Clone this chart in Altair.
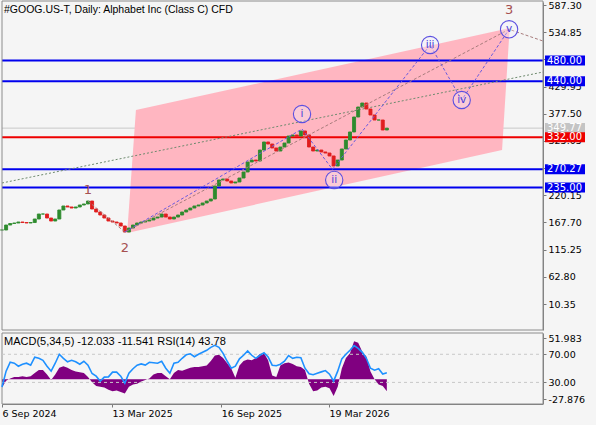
import altair as alt
import pandas as pd

# ---------------- data ----------------
START = "2024-09-06"          # weekly samples from this date
close = [153.2, 162.8, 165.7, 166.7, 168.6, 167.6, 166.7, 167.6, 174.4, 184.0,
         184.0, 176.3, 170.5, 174.4, 191.8, 199.5, 197.6, 195.6, 197.6, 201.4,
         203.4, 209.1, 193.7, 187.9, 182.1, 176.3, 170.5, 168.6, 166.7, 160.9,
         149.3, 157.0, 162.8, 166.7, 168.6, 170.5, 172.5, 176.3, 178.2, 184.0,
         178.2, 174.4, 178.2, 182.1, 187.9, 191.8, 195.6, 199.5, 201.4, 205.3,
         209.1, 213.0, 238.1, 249.7, 251.6, 247.7, 243.9, 245.8, 253.5, 265.1,
         284.4, 288.2, 286.3, 307.5, 323.0, 319.1, 311.4, 305.6, 313.3, 321.0,
         334.5, 336.5, 334.5, 344.2, 336.5, 313.3, 305.6, 307.5, 303.7, 301.7,
         296.0, 276.7, 288.2, 309.5, 326.8, 342.3, 371.2, 390.5, 398.2, 386.6,
         375.1, 365.4, 365.4, 346.1, 349.77]
rsi14 = [23.4, 46.0, 58.7, 57.3, 53.0, 55.9, 57.3, 54.5, 65.8, 64.3,
         61.5, 53.0, 46.0, 57.3, 70.0, 64.3, 59.4, 61.5, 59.4, 55.9,
         60.1, 54.5, 42.7, 38.9, 31.8, 37.5, 37.9, 44.6, 44.6, 38.9,
         29.0, 43.1, 49.5, 54.5, 56.3, 54.7, 58.7, 58.0, 57.3, 60.1,
         50.2, 43.1, 57.3, 58.7, 64.3, 69.3, 70.7, 66.5, 70.0, 72.8,
         75.7, 79.9, 82.7, 79.9, 71.4, 60.1, 50.2, 53.0, 63.6, 68.6,
         74.9, 68.6, 64.3, 68.6, 72.1, 66.2, 54.5, 53.7, 55.9, 60.1,
         68.2, 64.3, 65.8, 65.1, 50.2, 42.2, 41.0, 43.1, 45.0, 46.8,
         41.7, 31.8, 46.0, 63.5, 70.0, 75.7, 82.3, 78.5, 72.8, 64.3,
         50.2, 47.4, 49.5, 42.0, 43.78]
macd_hist = [-11, -2, 1, 3, 3, 4, 3, 4, 8, 12,
             12, 6, -1, 6, 15, 17, 15, 12, 10, 9,
             8, 3, -4, -9, -10, -11, -14, -16, -15, -17,
             -19, -10, -7, -6, -3, -1, 1, 6, 8, 8,
             4, 0, 8, 12, 11, 13, 15, 16, 16, 17,
             18, 24, 31, 32, 28, 21, 14, 2, 18, 24,
             26, 25, 28, 33, 34, 25, 5, 3, 18, 21,
             22, 20, 17, 16, 12, -6, -16, -15, -11, -10,
             -12, -22, -10, 14, 28, 34, 50, 48, 36, 30,
             10, 0, -7, -9, -16]

level_values = [480.00, 440.00, 349.77, 332.00, 270.27, 235.00]
level_labels = ["480.00", "440.00", "349.77", "332.00", "270.27", "235.00"]
level_colors = ["#0000EE", "#0000EE", "#C4C4C4", "#EE0000", "#0000EE", "#0000EE"]

price_ticks = [587.30, 534.85, 482.40, 429.95, 377.50, 325.05, 272.60,
               220.15, 167.70, 115.25, 62.80, 10.35]
date_ticks = ["2024-09-06", "2025-03-13", "2025-09-16", "2026-03-19"]
x_domain = ["2024-09-06", "2027-03-20"]

channel_dates = ["2025-04-08", "2025-04-23", "2027-01-09", "2027-01-22"]
channel_top = [147.4, 384.7, 539.5, 542.9]
channel_bottom = [147.4, 151.3, 307.5, 542.9]

trend_dates = ["2024-09-06", "2027-03-20"]
trend_prices = [243.9, 458.0]

major_wave_dates = ["2025-01-31", "2025-04-04", "2027-01-21", "2027-03-20"]
major_wave_prices = [209.1, 149.3, 540.4, 517.8]

minor_wave_dates = ["2025-04-04", "2026-02-01", "2026-03-25", "2026-09-08",
                    "2026-11-01", "2027-01-21"]
minor_wave_prices = [149.3, 348.0, 270.3, 510.1, 404.0, 540.4]

minor_labels = ["i", "ii", "iii", "iv", "v"]
minor_label_dates = ["2026-02-01", "2026-03-28", "2026-09-08", "2026-11-01", "2027-01-21"]
minor_label_prices = [377.0, 249.7, 510.1, 404.0, 540.4]

major_labels = ["1", "2", "3"]
major_label_dates = ["2025-01-31", "2025-04-04", "2027-01-21"]
major_label_prices = [230.4, 117.9, 577.6]

osc_levels = [70, 30]
osc_tick_pos = [92.7, 70, 30, 6.0]
osc_tick_text = ["51.983", "70.00", "30.00", "-27.876"]

title_text = "#GOOG.US-T, Daily:  Alphabet Inc (Class C) CFD"
macd_text = "MACD(5,34,5) -12.033 -11.541 RSI(14) 43.78"

# ---------------- frames ----------------
dates = pd.date_range(START, periods=len(close), freq="7D").strftime("%Y-%m-%d")
price_df = pd.DataFrame({"date": dates, "close": close})
price_df["open"] = price_df["close"].shift(1).fillna(price_df["close"].iloc[0])
price_df["dir"] = ["up" if c >= o else "down" for c, o in zip(price_df["close"], price_df["open"])]
osc_df = pd.DataFrame({"date": dates, "rsi": rsi14, "hist": macd_hist})

FONT = "DejaVu Sans"


def dt(s):
    y, m, d = map(int, s.split("-"))
    return alt.DateTime(year=y, month=m, date=d, utc=True)


X_SCALE = alt.Scale(type="utc", domain=[dt(x_domain[0]), dt(x_domain[1])], range=[2, 543],
                    padding=0)
X_AXIS = alt.Axis(orient="bottom", offset=-21, values=[dt(d) for d in date_ticks],
                  labelExpr="utcFormat(datum.value, '%-d %b %Y')", labelAlign="left",
                  labelFont=FONT, labelFontSize=9.5, labelColor="#000000",
                  tickColor="#7A7A7A", tickSize=3, domainColor="#7A7A7A",
                  labelPadding=1, title=None, grid=False, labelFlush=False,
                  labelOverlap=False)


def xd(field="date"):
    return alt.X(f"{field}:T", scale=X_SCALE, axis=X_AXIS)


Y_MAIN = alt.Scale(domain=[-39.75, 593.09], range=[330, 2], nice=False, zero=False, padding=0)
MAIN_AXIS = alt.Axis(orient="right", offset=-53, values=price_ticks, format=".2f",
                     labelFont=FONT, labelFontSize=9.5, labelColor="#000000",
                     tickColor="#7A7A7A", domainColor="#7A7A7A", tickSize=3,
                     labelPadding=2, title=None, grid=False, labelOverlap=False,
                     labelFlush=False)


def ym(field):
    return alt.Y(f"{field}:Q", scale=Y_MAIN, axis=MAIN_AXIS)


levels_df = pd.DataFrame({"price": level_values, "label": level_labels, "col": level_colors})
one = pd.DataFrame({"a": [0]})

gray_line = alt.Chart(levels_df[levels_df["label"] == "349.77"]).mark_rule(
    color="#C8C8C8", strokeWidth=1).encode(y=ym("price"), x=alt.value(2), x2=alt.value(543))

channel = alt.Chart(pd.DataFrame({"date": channel_dates, "top": channel_top,
                                  "bottom": channel_bottom})).mark_area(
    color="#FFB6C1", opacity=1, interpolate="linear").encode(
    x=xd(), y=ym("top"), y2="bottom:Q")

color_lines = alt.Chart(levels_df[levels_df["label"] != "349.77"]).mark_rule(strokeWidth=2).encode(
    y=ym("price"), x=alt.value(2), x2=alt.value(543), color=alt.Color("col:N", scale=None))

trend = alt.Chart(pd.DataFrame({"date": trend_dates, "price": trend_prices})).mark_line(
    color="#6E8A6E", strokeWidth=1, strokeDash=[2, 2]).encode(x=xd(), y=ym("price"))

CANDLE_SCALE = alt.Scale(domain=["up", "down"], range=["#2E8B2E", "#E01E1E"])
candles = alt.Chart(price_df).mark_bar(width=3.0, strokeWidth=0.9).encode(
    x=xd(), y=ym("open"), y2="close:Q",
    color=alt.Color("dir:N", scale=CANDLE_SCALE, legend=None),
    stroke=alt.Stroke("dir:N", scale=CANDLE_SCALE, legend=None))

major_line = alt.Chart(pd.DataFrame({"date": major_wave_dates, "price": major_wave_prices,
                                     "o": list(range(len(major_wave_dates)))})).mark_line(
    color="#A87C7C", strokeWidth=1, strokeDash=[3, 2]).encode(x=xd(), y=ym("price"), order="o:Q")

minor_line = alt.Chart(pd.DataFrame({"date": minor_wave_dates, "price": minor_wave_prices,
                                     "o": list(range(len(minor_wave_dates)))})).mark_line(
    color="#6A5ADF", strokeWidth=1, strokeDash=[3, 2]).encode(x=xd(), y=ym("price"), order="o:Q")

minor_df = pd.DataFrame({"date": minor_label_dates, "price": minor_label_prices, "lab": minor_labels})
circles = alt.Chart(minor_df).mark_point(shape="circle", size=300, filled=True, fill="#F4F0FF",
                                         fillOpacity=0.35, stroke="#5B4FE0", strokeWidth=1.1,
                                         opacity=1).encode(x=xd(), y=ym("price"))
circle_text = alt.Chart(minor_df).mark_text(font=FONT, fontSize=10.5, color="#4B3FD8",
                                            baseline="middle", align="center").encode(
    x=xd(), y=ym("price"), text="lab:N")

major_text = alt.Chart(pd.DataFrame({"date": major_label_dates, "price": major_label_prices,
                                     "lab": major_labels})).mark_text(
    font=FONT, fontSize=13, color="#A65050", baseline="middle", align="center").encode(
    x=xd(), y=ym("price"), text="lab:N")

boxes = alt.Chart(levels_df).mark_tick(orient="horizontal", size=40, thickness=10, opacity=1).encode(
    y=ym("price"), x=alt.value(565), color=alt.Color("col:N", scale=None))
box_text = alt.Chart(levels_df).mark_text(font=FONT, fontSize=10, color="#FFFFFF",
                                          align="left", baseline="middle").encode(
    y=ym("price"), x=alt.value(547), text="label:N")

title = alt.Chart(one).mark_text(text=title_text, font="Liberation Sans", fontSize=10.5,
                                 color="#000000", align="left", baseline="middle").encode(
    x=alt.value(4), y=alt.value(10))

main_border = alt.Chart(one).mark_rect(fillOpacity=0, stroke="#8C8C8C", strokeWidth=1).encode(
    x=alt.value(2), x2=alt.value(543), y=alt.value(1), y2=alt.value(330))

main = alt.layer(gray_line, channel, color_lines, trend, candles, major_line, minor_line,
                 circles, circle_text, major_text, boxes, box_text, title, main_border)

# ---------------- oscillator panel ----------------
Y_HIST = alt.Scale(domain=[-32, 60.5], range=[403.5, 333.2], nice=False, zero=False, padding=0)
hist = alt.Chart(osc_df).mark_area(color="#800080", opacity=1, interpolate="linear").encode(
    x=xd(), y=alt.Y("hist:Q", scale=Y_HIST, axis=None), y2=alt.datum(0))

Y_RSI = alt.Scale(domain=[0, 100], range=[403.5, 333.2], nice=False, zero=False, padding=0)
RSI_AXIS = alt.Axis(orient="right", offset=-53, values=osc_tick_pos,
                    labelExpr=("datum.value > 90 ? '%s' : datum.value > 50 ? '%s' : "
                               "datum.value > 20 ? '%s' : '%s'") % tuple(osc_tick_text),
                    labelFont=FONT, labelFontSize=9.5, labelColor="#000000",
                    tickColor="#7A7A7A", domainColor="#7A7A7A", tickSize=3,
                    labelPadding=2, title=None, grid=False, labelOverlap=False,
                    labelFlush=False)

osc_lines = alt.Chart(pd.DataFrame({"lvl": osc_levels})).mark_rule(
    color="#C8C8C8", strokeWidth=1, strokeDash=[3, 3]).encode(
    y=alt.Y("lvl:Q", scale=Y_RSI, axis=RSI_AXIS), x=alt.value(2), x2=alt.value(543))
rsi_line = alt.Chart(osc_df).mark_line(color="#1E90FF", strokeWidth=1.6).encode(
    x=xd(), y=alt.Y("rsi:Q", scale=Y_RSI, axis=RSI_AXIS))
macd_label = alt.Chart(one).mark_text(text=macd_text, font="Liberation Sans", fontSize=11,
                                      color="#000000", align="left", baseline="middle").encode(
    x=alt.value(4), y=alt.value(342))
osc_border = alt.Chart(one).mark_rect(fillOpacity=0, stroke="#8C8C8C", strokeWidth=1).encode(
    x=alt.value(2), x2=alt.value(543), y=alt.value(333), y2=alt.value(404))

osc = alt.layer(osc_border, osc_lines, rsi_line, macd_label)

chart = alt.layer(main, hist, osc).resolve_scale(y="independent").properties(
    width=596, height=425, background="#F5F5F5", padding=0,
    autosize=alt.AutoSizeParams(type="none")).configure_view(strokeWidth=0)

chart.save("out.html", embed_options={"renderer": "svg", "actions": False})
